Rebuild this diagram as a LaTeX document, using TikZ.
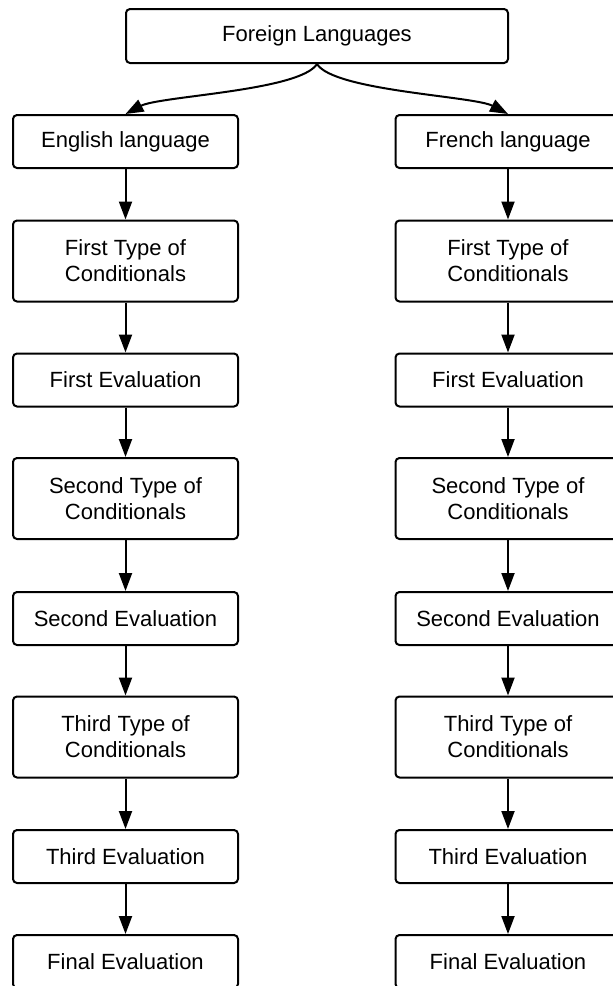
\documentclass[tikz,border=0pt]{standalone}
\usepackage{fontspec}
\setmainfont{Liberation Sans}
\usetikzlibrary{arrows.meta}

\tikzset{
  box/.style={draw=black, line width=2pt, rounded corners=4pt, fill=white,
    minimum width=225pt, align=center, inner sep=0pt,
    font=\fontsize{22}{26}\selectfont},
  onebox/.style={box, minimum height=53pt},
  twobox/.style={box, minimum height=81pt},
  flow/.style={line width=2pt, -{Triangle[length=18pt,width=13pt]}},
}

\begin{document}
\begin{tikzpicture}[x=1pt,y=-1pt]
  \clip (0,0) rectangle (613,986);
  \fill[white] (0,0) rectangle (613,986);

  % root
  \node[box, minimum width=382pt, minimum height=54pt] (root) at (317,36) {Foreign Languages};

  % left column
  \node[onebox] (e1) at (125.5,141.5) {English language};
  \node[twobox] (e2) at (125.5,261)   {First Type of\\Conditionals};
  \node[onebox] (e3) at (125.5,380)   {First Evaluation};
  \node[twobox] (e4) at (125.5,498.5) {Second Type of\\Conditionals};
  \node[onebox] (e5) at (125.5,618.5) {Second Evaluation};
  \node[twobox] (e6) at (125.5,737)   {Third Type of\\Conditionals};
  \node[onebox] (e7) at (125.5,856.5) {Third Evaluation};
  \node[onebox] (e8) at (125.5,961.5) {Final Evaluation};

  % right column
  \node[onebox] (f1) at (508,141.5) {French language};
  \node[twobox] (f2) at (508,261)   {First Type of\\Conditionals};
  \node[onebox] (f3) at (508,380)   {First Evaluation};
  \node[twobox] (f4) at (508,498.5) {Second Type of\\Conditionals};
  \node[onebox] (f5) at (508,618.5) {Second Evaluation};
  \node[twobox] (f6) at (508,737)   {Third Type of\\Conditionals};
  \node[onebox] (f7) at (508,856.5) {Third Evaluation};
  \node[onebox] (f8) at (508,961.5) {Final Evaluation};

  % curved branches from the root
  \draw[flow] (root.south) .. controls +(-17,27) and +(34,-18) .. (e1.north);
  \draw[flow] (root.south) .. controls +(17,27) and +(-34,-18) .. (f1.north);

  % vertical chains
  \foreach \a/\b in {1/2,2/3,3/4,4/5,5/6,6/7,7/8} {
    \draw[flow] (e\a.south) -- (e\b.north);
    \draw[flow] (f\a.south) -- (f\b.north);
  }
\end{tikzpicture}
\end{document}
